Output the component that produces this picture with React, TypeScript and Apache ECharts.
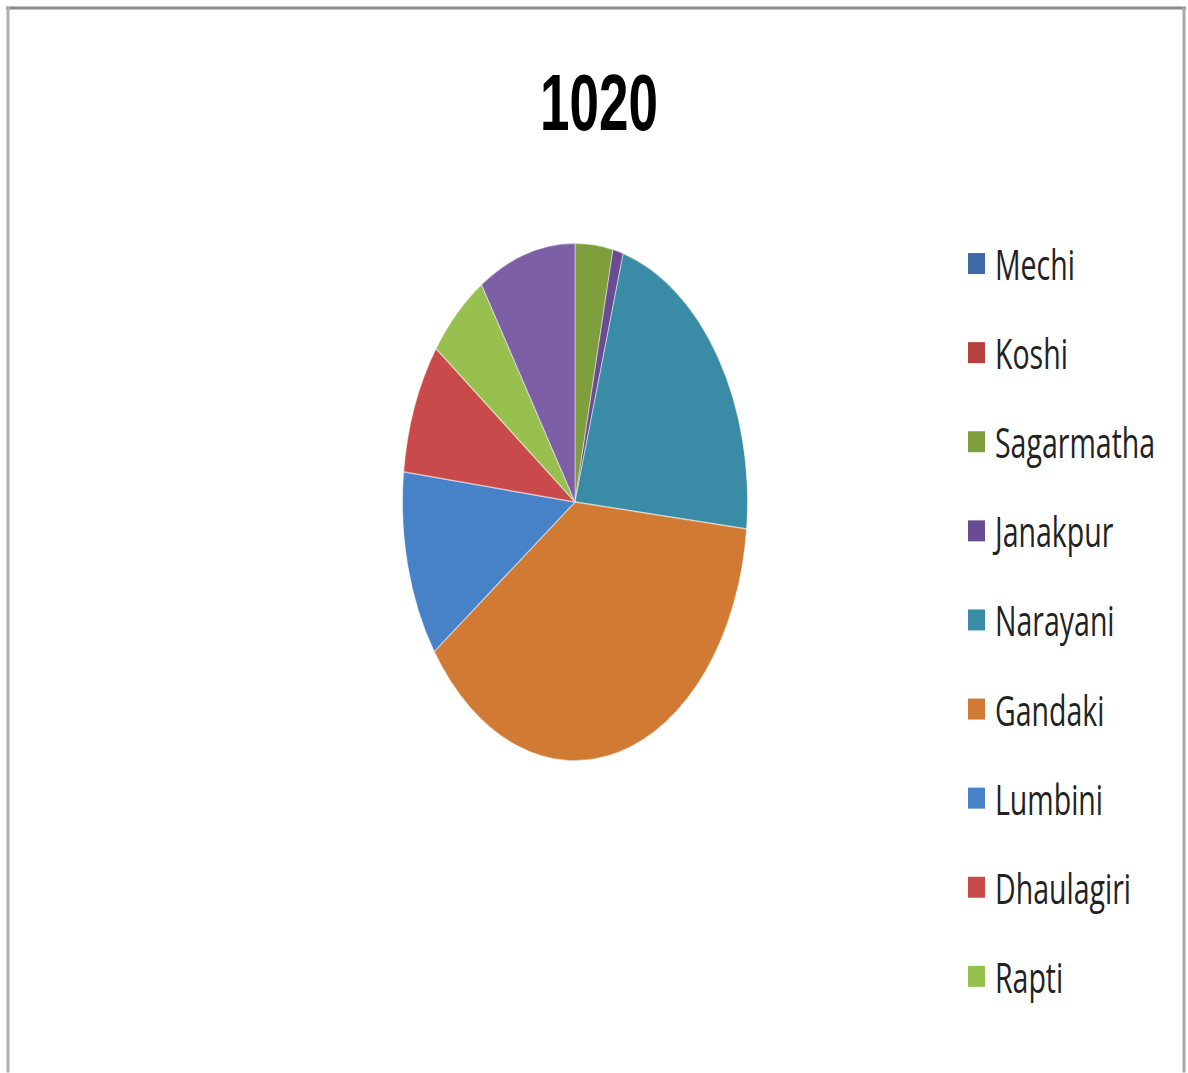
import React, { useEffect, useRef } from "react";
import * as echarts from "echarts";

const TITLE = "1020";
const categories = ["Mechi", "Koshi", "Sagarmatha", "Janakpur", "Narayani", "Gandaki", "Lumbini", "Dhaulagiri", "Rapti", "Bheri"];
const values = [0, 0, 36, 10, 226, 393, 119, 84, 59, 93];
const colors = ["#3C6AA7", "#B5413E", "#7E9F3B", "#6A4C93", "#3A8BA5", "#D07A34", "#4781C8", "#C84A4A", "#98C04F", "#7D5FA6"];
const legendNames = ["Mechi", "Koshi", "Sagarmatha", "Janakpur", "Narayani", "Gandaki", "Lumbini", "Dhaulagiri", "Rapti"];

const W = 1188;
const S = 1.5;
const H = 1073 / S;

export default function App() {
  const ref = useRef<HTMLDivElement>(null);
  useEffect(() => {
    if (!ref.current) return;
    const chart = echarts.init(ref.current, null, { renderer: "svg" });
    chart.setOption({
      animation: false,
      backgroundColor: "#ffffff",
      title: {
        text: TITLE,
        left: 594,
        top: 37,
        textAlign: "center",
        textStyle: { fontFamily: "Liberation Sans", fontWeight: "bold", fontSize: 53, color: "#000000" },
      },
      legend: {
        orient: "vertical",
        left: 963,
        top: 155.7,
        data: legendNames,
        icon: "rect",
        itemWidth: 17,
        itemHeight: 14,
        itemGap: 29.4,
        selectedMode: false,
        itemStyle: { borderWidth: 0 },
        textStyle: { fontFamily: "Open Sans", fontSize: 28.5, lineHeight: 30, color: "#222222", padding: [0, 0, 0, 5] },
      },
      graphic: [
        { type: "line", shape: { x1: 6, y1: 8 / S, x2: 1186, y2: 8 / S }, style: { stroke: "#8a8a8a", lineWidth: 3 / S } },
        { type: "line", shape: { x1: 8, y1: 7 / S, x2: 8, y2: H }, style: { stroke: "#b0b0b0", lineWidth: 3 } },
        { type: "line", shape: { x1: 1184, y1: 7 / S, x2: 1184, y2: H }, style: { stroke: "#a8a8a8", lineWidth: 3 } },
      ],
      series: [
        {
          type: "pie",
          center: [575, 502 / S],
          radius: 172.5,
          startAngle: 90,
          clockwise: true,
          silent: true,
          label: { show: false },
          labelLine: { show: false },
          itemStyle: { borderColor: "rgba(255,255,255,0.45)", borderWidth: 1 },
          data: categories.map((name, i) => ({ name, value: values[i], itemStyle: { color: colors[i] } })),
        },
      ],
    });
    return () => chart.dispose();
  }, []);
  return (
    <div style={{ position: "absolute", left: 0, top: 0, width: W, height: 1073, overflow: "hidden", background: "#fff" }}>
      <div
        ref={ref}
        style={{ width: W, height: H, transform: `scaleY(${S})`, transformOrigin: "0 0" }}
      />
    </div>
  );
}
